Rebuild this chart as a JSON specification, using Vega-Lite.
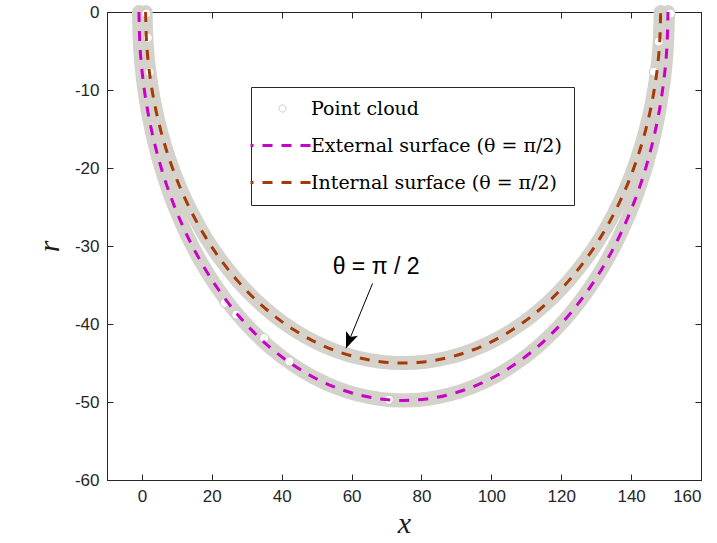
{
  "$schema": "https://vega.github.io/schema/vega-lite/v6.json",
  "width": 594,
  "height": 468,
  "autosize": {"type": "none"},
  "padding": {"left": 107, "top": 12, "right": 16, "bottom": 63},
  "background": "white",
  "datasets": {
    "surf": [
      {"series": "External surface (θ = π/2)", "t": 0, "x": -0.85, "r": 0},
      {"series": "External surface (θ = π/2)", "t": 5, "x": -0.56, "r": -4.34},
      {"series": "External surface (θ = π/2)", "t": 10, "x": 0.30, "r": -8.65},
      {"series": "External surface (θ = π/2)", "t": 15, "x": 1.73, "r": -12.89},
      {"series": "External surface (θ = π/2)", "t": 20, "x": 3.72, "r": -17.03},
      {"series": "External surface (θ = π/2)", "t": 25, "x": 6.24, "r": -21.05},
      {"series": "External surface (θ = π/2)", "t": 30, "x": 9.29, "r": -24.90},
      {"series": "External surface (θ = π/2)", "t": 35, "x": 12.84, "r": -28.56},
      {"series": "External surface (θ = π/2)", "t": 40, "x": 16.86, "r": -32.01},
      {"series": "External surface (θ = π/2)", "t": 45, "x": 21.32, "r": -35.21},
      {"series": "External surface (θ = π/2)", "t": 50, "x": 26.19, "r": -38.15},
      {"series": "External surface (θ = π/2)", "t": 55, "x": 31.43, "r": -40.79},
      {"series": "External surface (θ = π/2)", "t": 60, "x": 37.00, "r": -43.13},
      {"series": "External surface (θ = π/2)", "t": 65, "x": 42.86, "r": -45.13},
      {"series": "External surface (θ = π/2)", "t": 70, "x": 48.96, "r": -46.80},
      {"series": "External surface (θ = π/2)", "t": 75, "x": 55.26, "r": -48.10},
      {"series": "External surface (θ = π/2)", "t": 80, "x": 61.70, "r": -49.04},
      {"series": "External surface (θ = π/2)", "t": 85, "x": 68.25, "r": -49.61},
      {"series": "External surface (θ = π/2)", "t": 90, "x": 74.85, "r": -49.80},
      {"series": "External surface (θ = π/2)", "t": 95, "x": 81.45, "r": -49.61},
      {"series": "External surface (θ = π/2)", "t": 100, "x": 88.00, "r": -49.04},
      {"series": "External surface (θ = π/2)", "t": 105, "x": 94.44, "r": -48.10},
      {"series": "External surface (θ = π/2)", "t": 110, "x": 100.74, "r": -46.80},
      {"series": "External surface (θ = π/2)", "t": 115, "x": 106.84, "r": -45.13},
      {"series": "External surface (θ = π/2)", "t": 120, "x": 112.70, "r": -43.13},
      {"series": "External surface (θ = π/2)", "t": 125, "x": 118.27, "r": -40.79},
      {"series": "External surface (θ = π/2)", "t": 130, "x": 123.51, "r": -38.15},
      {"series": "External surface (θ = π/2)", "t": 135, "x": 128.38, "r": -35.21},
      {"series": "External surface (θ = π/2)", "t": 140, "x": 132.84, "r": -32.01},
      {"series": "External surface (θ = π/2)", "t": 145, "x": 136.86, "r": -28.56},
      {"series": "External surface (θ = π/2)", "t": 150, "x": 140.41, "r": -24.90},
      {"series": "External surface (θ = π/2)", "t": 155, "x": 143.46, "r": -21.05},
      {"series": "External surface (θ = π/2)", "t": 160, "x": 145.98, "r": -17.03},
      {"series": "External surface (θ = π/2)", "t": 165, "x": 147.97, "r": -12.89},
      {"series": "External surface (θ = π/2)", "t": 170, "x": 149.40, "r": -8.65},
      {"series": "External surface (θ = π/2)", "t": 175, "x": 150.26, "r": -4.34},
      {"series": "External surface (θ = π/2)", "t": 180, "x": 150.55, "r": 0},
      {"series": "Internal surface (θ = π/2)", "t": 0, "x": 1.05, "r": 0},
      {"series": "Internal surface (θ = π/2)", "t": 5, "x": 1.33, "r": -3.92},
      {"series": "Internal surface (θ = π/2)", "t": 10, "x": 2.17, "r": -7.81},
      {"series": "Internal surface (θ = π/2)", "t": 15, "x": 3.56, "r": -11.65},
      {"series": "Internal surface (θ = π/2)", "t": 20, "x": 5.50, "r": -15.39},
      {"series": "Internal surface (θ = π/2)", "t": 25, "x": 7.96, "r": -19.02},
      {"series": "Internal surface (θ = π/2)", "t": 30, "x": 10.92, "r": -22.50},
      {"series": "Internal surface (θ = π/2)", "t": 35, "x": 14.38, "r": -25.81},
      {"series": "Internal surface (θ = π/2)", "t": 40, "x": 18.29, "r": -28.93},
      {"series": "Internal surface (θ = π/2)", "t": 45, "x": 22.64, "r": -31.82},
      {"series": "Internal surface (θ = π/2)", "t": 50, "x": 27.38, "r": -34.47},
      {"series": "Internal surface (θ = π/2)", "t": 55, "x": 32.48, "r": -36.86},
      {"series": "Internal surface (θ = π/2)", "t": 60, "x": 37.90, "r": -38.97},
      {"series": "Internal surface (θ = π/2)", "t": 65, "x": 43.60, "r": -40.78},
      {"series": "Internal surface (θ = π/2)", "t": 70, "x": 49.54, "r": -42.29},
      {"series": "Internal surface (θ = π/2)", "t": 75, "x": 55.68, "r": -43.47},
      {"series": "Internal surface (θ = π/2)", "t": 80, "x": 61.95, "r": -44.32},
      {"series": "Internal surface (θ = π/2)", "t": 85, "x": 68.33, "r": -44.83},
      {"series": "Internal surface (θ = π/2)", "t": 90, "x": 74.75, "r": -45.00},
      {"series": "Internal surface (θ = π/2)", "t": 95, "x": 81.17, "r": -44.83},
      {"series": "Internal surface (θ = π/2)", "t": 100, "x": 87.55, "r": -44.32},
      {"series": "Internal surface (θ = π/2)", "t": 105, "x": 93.82, "r": -43.47},
      {"series": "Internal surface (θ = π/2)", "t": 110, "x": 99.96, "r": -42.29},
      {"series": "Internal surface (θ = π/2)", "t": 115, "x": 105.90, "r": -40.78},
      {"series": "Internal surface (θ = π/2)", "t": 120, "x": 111.60, "r": -38.97},
      {"series": "Internal surface (θ = π/2)", "t": 125, "x": 117.02, "r": -36.86},
      {"series": "Internal surface (θ = π/2)", "t": 130, "x": 122.12, "r": -34.47},
      {"series": "Internal surface (θ = π/2)", "t": 135, "x": 126.86, "r": -31.82},
      {"series": "Internal surface (θ = π/2)", "t": 140, "x": 131.21, "r": -28.93},
      {"series": "Internal surface (θ = π/2)", "t": 145, "x": 135.12, "r": -25.81},
      {"series": "Internal surface (θ = π/2)", "t": 150, "x": 138.58, "r": -22.50},
      {"series": "Internal surface (θ = π/2)", "t": 155, "x": 141.54, "r": -19.02},
      {"series": "Internal surface (θ = π/2)", "t": 160, "x": 144.00, "r": -15.39},
      {"series": "Internal surface (θ = π/2)", "t": 165, "x": 145.94, "r": -11.65},
      {"series": "Internal surface (θ = π/2)", "t": 170, "x": 147.33, "r": -7.81},
      {"series": "Internal surface (θ = π/2)", "t": 175, "x": 148.17, "r": -3.92},
      {"series": "Internal surface (θ = π/2)", "t": 180, "x": 148.45, "r": 0}
    ],
    "cloud": [
      {"x": 1.25, "r": -0.2},
      {"x": 1.7, "r": -3.3},
      {"x": 2.2, "r": -7.7},
      {"x": 23.7, "r": -37.3},
      {"x": 27.0, "r": -38.8},
      {"x": 35.0, "r": -41.8},
      {"x": 42.2, "r": -44.8},
      {"x": 70.7, "r": -49.7},
      {"x": 151.3, "r": -0.2},
      {"x": 147.9, "r": -3.8},
      {"x": 146.5, "r": -7.65}
    ],
    "note": [
      {"label": "θ = π / 2", "tx": 67.0, "tr": -32.7, "x0": 66.0, "r0": -34.8, "x1": 58.4, "r1": -43.1}
    ]
  },
  "resolve": {"axis": {"x": "independent", "y": "independent"}},
  "layer": [
    {
      "data": {"name": "surf"},
      "mark": {"type": "line", "strokeWidth": 14, "color": "#d5d1cb", "strokeCap": "round", "strokeJoin": "round", "interpolate": "natural"},
      "encoding": {
        "x": {"field": "x", "type": "quantitative", "scale": {"domain": [-10, 160], "nice": false, "zero": false},
              "axis": {"orient": "bottom", "title": "x", "values": [0, 20, 40, 60, 80, 100, 120, 140, 160], "titlePadding": 4}},
        "y": {"field": "r", "type": "quantitative", "scale": {"domain": [-60, 0], "nice": false, "zero": false},
              "axis": {"orient": "left", "title": "r", "titleAngle": 270, "values": [-60, -50, -40, -30, -20, -10, 0], "titlePadding": 10}},
        "detail": {"field": "series"},
        "order": {"field": "t", "type": "quantitative"}
      }
    },
    {
      "data": {"name": "cloud"},
      "mark": {"type": "point", "filled": false, "fill": "white", "size": 80, "opacity": 1},
      "encoding": {
        "x": {"field": "x", "type": "quantitative", "scale": {"domain": [-10, 160], "nice": false, "zero": false},
              "axis": {"orient": "top", "title": null, "labels": false, "values": [0, 20, 40, 60, 80, 100, 120, 140, 160]}},
        "y": {"field": "r", "type": "quantitative", "scale": {"domain": [-60, 0], "nice": false, "zero": false},
              "axis": {"orient": "right", "title": null, "labels": false, "values": [-60, -50, -40, -30, -20, -10, 0]}},
        "color": {"datum": "Point cloud", "type": "nominal"},
        "shape": {"datum": "Point cloud", "type": "nominal",
                  "scale": {"domain": ["Point cloud", "External surface (θ = π/2)", "Internal surface (θ = π/2)"],
                            "range": ["circle", "M8,0H-9.14", "M8,0H-9.14"]}},
        "strokeWidth": {"datum": "Point cloud", "type": "nominal",
                        "scale": {"type": "ordinal", "domain": ["Point cloud", "External surface (θ = π/2)", "Internal surface (θ = π/2)"], "range": [1, 3, 3]}}
      }
    },
    {
      "data": {"name": "surf"},
      "mark": {"type": "line", "interpolate": "natural"},
      "encoding": {
        "x": {"field": "x", "type": "quantitative", "scale": {"domain": [-10, 160], "nice": false, "zero": false}, "axis": null},
        "y": {"field": "r", "type": "quantitative", "scale": {"domain": [-60, 0], "nice": false, "zero": false}, "axis": null},
        "color": {"field": "series", "type": "nominal",
                  "scale": {"domain": ["Point cloud", "External surface (θ = π/2)", "Internal surface (θ = π/2)"],
                            "range": ["#cbc7c1", "#c800c8", "#a53a08"]},
                  "legend": {"title": null}},
        "strokeDash": {"field": "series", "type": "nominal",
                       "scale": {"domain": ["Point cloud", "External surface (θ = π/2)", "Internal surface (θ = π/2)"],
                                 "range": [[1, 0], [10, 9], [10, 9]]}},
        "strokeWidth": {"field": "series", "type": "nominal",
                        "scale": {"type": "ordinal", "domain": ["Point cloud", "External surface (θ = π/2)", "Internal surface (θ = π/2)"], "range": [1, 3, 3]}},
        "order": {"field": "t", "type": "quantitative"}
      }
    },
    {
      "data": {"name": "note"},
      "mark": {"type": "rule", "color": "black", "strokeWidth": 1},
      "encoding": {
        "x": {"field": "x0", "type": "quantitative", "scale": {"domain": [-10, 160], "nice": false, "zero": false}, "axis": null},
        "y": {"field": "r0", "type": "quantitative", "scale": {"domain": [-60, 0], "nice": false, "zero": false}, "axis": null},
        "x2": {"field": "x1"},
        "y2": {"field": "r1"}
      }
    },
    {
      "data": {"name": "note"},
      "mark": {"type": "point", "shape": "M0,0L0.8,2L0,1.5L-0.8,2Z", "size": 256, "angle": 202, "filled": true, "color": "black", "opacity": 1},
      "encoding": {
        "x": {"field": "x1", "type": "quantitative", "scale": {"domain": [-10, 160], "nice": false, "zero": false}, "axis": null},
        "y": {"field": "r1", "type": "quantitative", "scale": {"domain": [-60, 0], "nice": false, "zero": false}, "axis": null}
      }
    },
    {
      "data": {"name": "note"},
      "mark": {"type": "text", "font": "Liberation Sans", "fontSize": 23, "color": "black", "align": "center", "baseline": "middle"},
      "encoding": {
        "x": {"field": "tx", "type": "quantitative", "scale": {"domain": [-10, 160], "nice": false, "zero": false}, "axis": null},
        "y": {"field": "tr", "type": "quantitative", "scale": {"domain": [-60, 0], "nice": false, "zero": false}, "axis": null},
        "text": {"field": "label"}
      }
    }
  ],
  "config": {
    "view": {"stroke": "#262626", "strokeWidth": 1},
    "axis": {
      "grid": false,
      "domainColor": "#262626",
      "tickColor": "#262626",
      "tickSize": -6,
      "labelFont": "Liberation Sans",
      "labelFontSize": 17,
      "labelColor": "#262626",
      "labelPadding": 14,
      "labelExpr": "'' + datum.value",
      "titleFont": "Liberation Serif",
      "titleFontStyle": "italic",
      "titleFontWeight": "normal",
      "titleFontSize": 30,
      "titleColor": "#1a1a1a"
    },
    "legend": {
      "orient": "none",
      "legendX": 144,
      "legendY": 75,
      "padding": 12,
      "strokeColor": "#262626",
      "fillColor": "white",
      "labelFont": "DejaVu Serif",
      "labelFontSize": 19,
      "labelColor": "black",
      "labelLimit": 0,
      "labelOffset": 19,
      "symbolOffset": 10,
      "symbolSize": 49,
      "rowPadding": 17
    }
  }
}
